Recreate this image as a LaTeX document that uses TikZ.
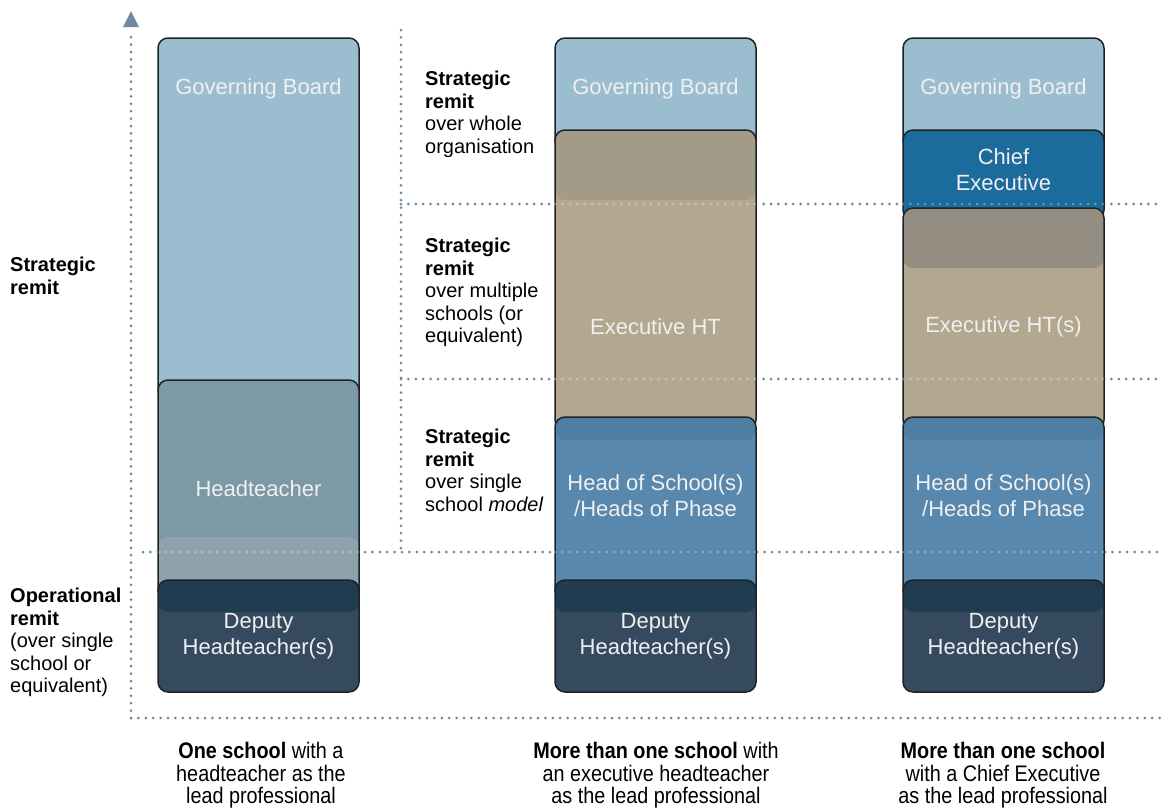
\documentclass[tikz,border=0pt]{standalone}
\usepackage{fontspec}
\setmainfont{Liberation Sans}
\newfontfamily\narrowsans[FakeStretch=0.88]{Liberation Sans}
\usetikzlibrary{arrows.meta}

\definecolor{board}{HTML}{9BBDD0}
\definecolor{headt}{HTML}{7C9AA6}
\definecolor{headtlow}{HTML}{8DA2AA}
\definecolor{deputy}{HTML}{364A5F}
\definecolor{deputytop}{HTML}{1F3C50}
\definecolor{exec}{HTML}{B3A78F}
\definecolor{exectop}{HTML}{A39A88}
\definecolor{exectopb}{HTML}{948E82}
\definecolor{school}{HTML}{5888AD}
\definecolor{schooltop}{HTML}{4E7EA2}
\definecolor{chief}{HTML}{1B6B9C}
\definecolor{axis}{HTML}{7088A0}
\definecolor{outline}{HTML}{1E2328}

\begin{document}
\begin{tikzpicture}[%
    x=1pt, y=-1pt,
    role/.style={draw=outline, line width=1.5pt, rounded corners=10pt},
    topband/.style 2 args={path picture={\fill[#1] (path picture bounding box.north west)
        rectangle ([yshift=-#2pt]path picture bounding box.north east);}},
    lowband/.style 2 args={path picture={\fill[#1] (path picture bounding box.south west)
        rectangle ([yshift=#2pt]path picture bounding box.south east);}},
    rolename/.style={text=white!94!black, align=center, font=\fontsize{22}{26}\selectfont},
    remit/.style={anchor=north west, inner sep=0pt, align=left, font=\fontsize{20}{22.5}\selectfont},
    caption/.style={anchor=north, inner sep=0pt, align=center, font=\narrowsans\fontsize{22.5}{22.5}\selectfont},
    guide/.style={axis, line width=3pt, line cap=round, dash pattern=on 0pt off 7.4pt},
    ghost/.style={white, opacity=0.3, line width=3pt, line cap=round, dash pattern=on 0pt off 7.4pt},
  ]
    \useasboundingbox (0,0) rectangle (1162,807);

    % axes and remit bands
    \draw[guide] (131,718) -- (131,32);
    \fill[axis] (123,27) -- (139,27) -- (131,11) -- cycle;
    \draw[guide] (131,718) -- (1162,718);
    \draw[guide] (401,30) -- (401,552);
    \draw[guide] (401,204) -- (1162,204);
    \draw[guide] (401,379) -- (1162,379);
    \draw[guide] (143,552) -- (1162,552);

    % one school
    \filldraw[role, fill=board] (158,38) rectangle (359,400);
    \filldraw[role, fill=headt, lowband={headtlow}{63}] (158,380) rectangle (359,600);
    \filldraw[role, fill=deputy, topband={deputytop}{32}] (158,580) rectangle (359,692);

    % executive headteacher
    \filldraw[role, fill=board] (555,38) rectangle (756,150);
    \filldraw[role, fill=exec, topband={exectop}{70}] (555,130) rectangle (756,430);
    \filldraw[role, fill=school, topband={schooltop}{23}] (555,417) rectangle (756,600);
    \filldraw[role, fill=deputy, topband={deputytop}{32}] (555,580) rectangle (756,692);

    % chief executive
    \filldraw[role, fill=board] (903,38) rectangle (1104,150);
    \filldraw[role, fill=chief] (903,130) rectangle (1104,220);
    \filldraw[role, fill=exec, topband={exectopb}{60}] (903,208) rectangle (1104,430);
    \filldraw[role, fill=school, topband={schooltop}{23}] (903,417) rectangle (1104,600);
    \filldraw[role, fill=deputy, topband={deputytop}{32}] (903,580) rectangle (1104,692);

    \foreach \xa/\xb in {555/756, 903/1104}
      \foreach \yy in {204, 379}
        \draw[ghost] (\xa,\yy) -- (\xb,\yy);
    \foreach \xa/\xb in {158/359, 555/756, 903/1104}
      \draw[ghost] (\xa,552) -- (\xb,552);

    \node[rolename] (gb1) at (258.5,89) {Governing Board};
    \node[rolename] (ht1) at (258.5,489) {Headteacher};
    \node[rolename] (dh1) at (258.5,636) {Deputy\\Headteacher(s)};

    \node[rolename] (gb2) at (655.5,89) {Governing Board};
    \node[rolename] (eh2) at (655.5,327) {Executive HT};
    \node[rolename] (hs2) at (655.5,496) {Head of School(s)\\/Heads of Phase};
    \node[rolename] (dh2) at (655.5,636) {Deputy\\Headteacher(s)};

    \node[rolename] (gb3) at (1003.5,89) {Governing Board};
    \node[rolename] (ce3) at (1003.5,170) {Chief\\Executive};
    \node[rolename] (eh3) at (1003.5,327) {Executive HT(s)};
    \node[rolename] (hs3) at (1003.5,496) {Head of School(s)\\/Heads of Phase};
    \node[rolename] (dh3) at (1003.5,636) {Deputy\\Headteacher(s)};

    % remit labels
    \node[remit] (strat) at (10,257) {\textbf{Strategic}\\\textbf{remit}};
    \node[remit] (oper) at (10,588) {\textbf{Operational}\\\textbf{remit}\\(over single\\school or\\equivalent)};
    \node[remit] (whole) at (425,71) {\textbf{Strategic}\\\textbf{remit}\\over whole\\organisation};
    \node[remit] (multi) at (425,238) {\textbf{Strategic}\\\textbf{remit}\\over multiple\\schools (or\\equivalent)};
    \node[remit] (single) at (425,429) {\textbf{Strategic}\\\textbf{remit}\\over single\\school \textit{model}};

    % captions under each model
    \node[caption] (cap1) at (261,742) {\textbf{One school} with a\\headteacher as the\\lead professional};
    \node[caption] (cap2) at (656,742) {\textbf{More than one school} with\\an executive headteacher\\as the lead professional};
    \node[caption] (cap3) at (1003,742) {\textbf{More than one school}\\with a Chief Executive\\as the lead professional};
  \end{tikzpicture}
\end{document}
